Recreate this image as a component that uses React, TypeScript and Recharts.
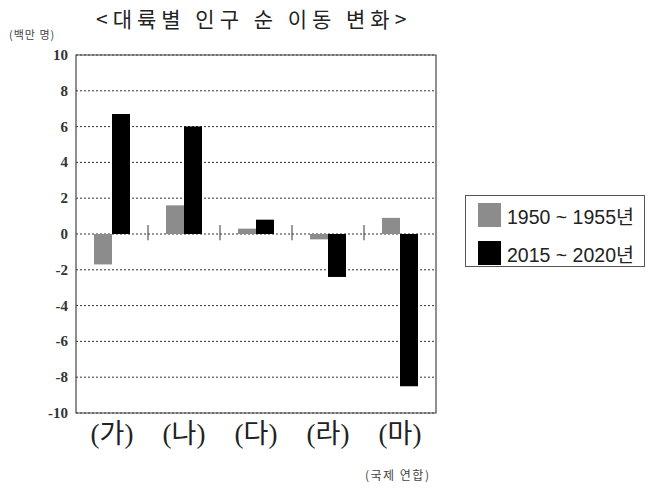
import { BarChart, Bar, XAxis, YAxis, CartesianGrid, ReferenceLine, ReferenceArea } from "recharts";

const regions = ["(가)", "(나)", "(다)", "(라)", "(마)"];
const period1950 = [-1.7, 1.6, 0.3, -0.3, 0.9];
const period2015 = [6.7, 6.0, 0.8, -2.4, -8.5];
const seriesNames = ["1950 ~ 1955년", "2015 ~ 2020년"];
const seriesColors = ["#8c8c8c", "#000000"];
const yTicks = [10, 8, 6, 4, 2, 0, -2, -4, -6, -8, -10];

const data = regions.map((r, i) => ({ region: r, a: period1950[i], b: period2015[i] }));

const serif = "'Liberation Serif', 'Times New Roman', serif";
const kr = "'Noto Sans CJK KR', sans-serif";

function YTick(props: any) {
  const { x, y, payload } = props;
  return (
    <text x={x} y={y} dy={5} textAnchor="end" fill="#333" fontFamily={serif} fontSize={15} fontWeight="bold">
      {payload.value}
    </text>
  );
}

function XTick(props: any) {
  const { x, y, payload } = props;
  return (
    <text x={x} y={y} dy={22} textAnchor="middle" fill="#222" fontFamily={"'Liberation Serif', " + kr} fontSize={27}>
      {payload.value}
    </text>
  );
}

export default function App() {
  return (
    <div style={{ position: "absolute", left: 0, top: 0, width: 647, height: 490, background: "#fff" }}>
      <div style={{ position: "absolute", left: 96, top: 3, fontFamily: kr, fontSize: 21, letterSpacing: 5, color: "#222", whiteSpace: "nowrap" }}>
        &lt;대륙별 인구 순 이동 변화&gt;
      </div>
      <div style={{ position: "absolute", left: 9, top: 26, fontFamily: kr, fontSize: 11, letterSpacing: 1, color: "#444", whiteSpace: "nowrap" }}>
        (백만 명)
      </div>
      <BarChart
        width={647}
        height={490}
        data={data}
        margin={{ top: 55, right: 211, bottom: 37, left: 36 }}
        barCategoryGap="25%"
        barGap={0}
        style={{ position: "absolute", left: 0, top: 0 }}
      >
        <CartesianGrid vertical={false} stroke="#333" strokeDasharray="2 2" />
        <XAxis dataKey="region" axisLine={false} tickLine={false} height={40} tick={<XTick />} />
        <YAxis
          domain={[-10, 10]}
          ticks={yTicks}
          interval={0}
          width={40}
          axisLine={false}
          tickLine={false}
          tickSize={0}
          tickMargin={8}
          tick={<YTick />}
        />
        <ReferenceArea
          x1={regions[0]}
          x2={regions[regions.length - 1]}
          y1={-10}
          y2={10}
          fill="none"
          stroke="#444"
          strokeWidth={1.2}
          ifOverflow="visible"
        />
        {regions.slice(1).map((r) => (
          <ReferenceLine
            key={r}
            segment={[{ x: r, y: -0.35 }, { x: r, y: 0.5 }]}
            position="start"
            stroke="#333"
            ifOverflow="visible"
          />
        ))}
        <Bar dataKey="a" name={seriesNames[0]} fill={seriesColors[0]} barSize={18} isAnimationActive={false} />
        <Bar dataKey="b" name={seriesNames[1]} fill={seriesColors[1]} barSize={18} isAnimationActive={false} />
      </BarChart>
      <div
        style={{
          position: "absolute",
          left: 465,
          top: 195,
          width: 180,
          height: 72,
          border: "1px solid #555",
          boxSizing: "border-box",
          fontFamily: "'Liberation Sans', Arial, " + kr,
          fontSize: 19.5,
          color: "#222",
        }}
      >
        {seriesNames.map((n, i) => (
          <div key={n} style={{ position: "absolute", left: 12, top: 7 + i * 38, height: 24, display: "flex", alignItems: "center", whiteSpace: "nowrap" }}>
            <span style={{ display: "inline-block", width: 23, height: 24, background: seriesColors[i], marginRight: 6 }} />
            {n}
          </div>
        ))}
      </div>
      <div style={{ position: "absolute", left: 365, top: 466, fontFamily: kr, fontSize: 12, letterSpacing: 1.5, color: "#444", whiteSpace: "nowrap" }}>
        (국제 연합)
      </div>
    </div>
  );
}
